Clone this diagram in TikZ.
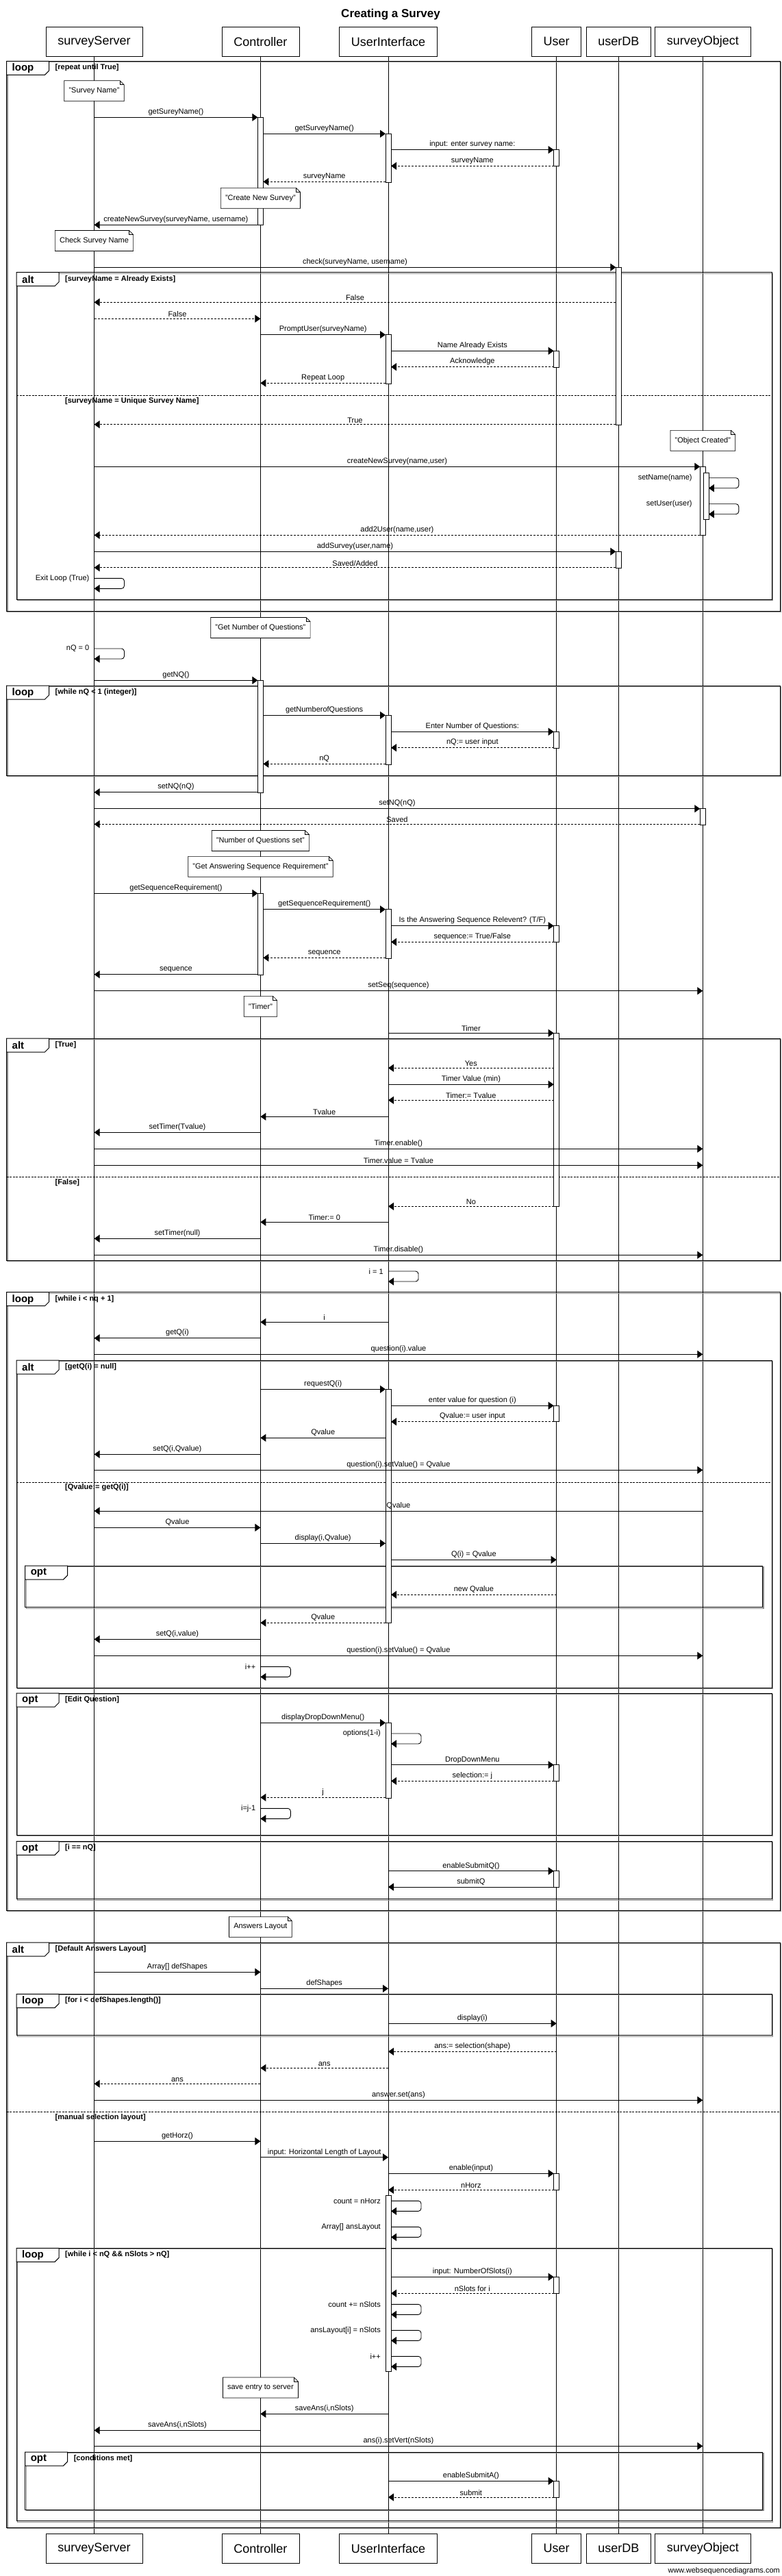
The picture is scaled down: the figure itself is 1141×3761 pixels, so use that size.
\documentclass[tikz,border=0pt]{standalone}
\usepackage{fontspec}
\setmainfont{Liberation Sans}
\usepackage{xcolor}
\usepackage{tikz}
\usetikzlibrary{positioning,arrows.meta,calc}
\definecolor{frameshade}{HTML}{8C8C8C}

\newcommand{\seqmsg}[7]{%
  \draw[#1] ($(#2 |- 0,#6)+(#3,0)$) -- node[msglabel]{#7} ($(#4 |- 0,#6)+(#5,0)$);}
\newcommand{\selfmsg}[4]{%
  \node[selflabel] at ($(#1 |- 0,#3)+(-6-#2,0)$) {#4};
  \draw[call, rounded corners=4pt] ($(#1 |- 0,#3)+(#2,0)$) -- ++(44,0) -- ++(0,15) -- ++(-44,0);}
\newcommand{\actbar}[4]{%
  \draw[activation] ($(#1 |- 0,#3)+(#2-4,0)$) rectangle ($(#1 |- 0,#4)+(#2+4,0)$);}
\newcommand{\seqframe}[6]{%
  \draw[frameshadow] (#1+1.5,#2+1.5) rectangle (#3+1.5,#4+1.5);
  \draw[framebox] (#1,#2) rectangle (#3,#4);
  \draw[framebox, fill=white] (#1,#2) -- ++(62,0) -- ++(0,14) -- ++(-6,6) -- ++(-56,0) -- cycle;
  \node[framekind] at (#1+8,#2+10.5) {#5};
  \node[guard] at (#1+71,#2+9.7) {#6};}
\newcommand{\altsep}[4]{%
  \draw[framebox, dash pattern=on 3pt off 1.5pt] (#1,#3) -- (#2,#3);
  \node[guard] at (#1+71,#3+8) {#4};}
\newcommand{\notebox}[4]{%
  \node[note] (#1) at (#2 |- 0,#3) {#4};
  \draw[notefold] (#1.north west) -- ([xshift=-6pt]#1.north east) -- ([yshift=-6pt]#1.north east)
    -- (#1.south east) -- (#1.south west) -- cycle;
  \draw[notefold] ([xshift=-6pt]#1.north east) -- ([xshift=-6pt,yshift=-6pt]#1.north east)
    -- ([yshift=-6pt]#1.north east);}

\begin{document}
\begin{tikzpicture}[
    x=1pt, y=-1pt,
    participant/.style={draw, line width=0.8pt, fill=white, minimum height=43pt,
                        inner sep=0pt, font=\fontsize{18}{20}\selectfont},
    lifeline/.style={line width=0.5pt},
    activation/.style={draw, fill=white, line width=0.6pt},
    call/.style={line width=0.9pt, -{Triangle[length=8pt,width=11pt]}},
    reply/.style={call, dash pattern=on 3pt off 2pt},
    msglabel/.style={above=1pt, inner sep=1pt, font=\fontsize{11}{13}\selectfont},
    selflabel/.style={anchor=east, inner sep=1pt, font=\fontsize{11}{13}\selectfont},
    note/.style={fill=white, minimum height=29.5pt, inner xsep=6.5pt, inner ysep=0pt,
                 font=\fontsize{11}{13}\selectfont},
    notefold/.style={line width=0.7pt},
    framebox/.style={line width=1pt},
    frameshadow/.style={line width=1.2pt, frameshade},
    framekind/.style={anchor=west, inner sep=0pt, font=\fontsize{15}{17}\selectfont\bfseries},
    guard/.style={anchor=west, inner sep=0pt, font=\fontsize{11}{13}\selectfont\bfseries},
]
\useasboundingbox (0,0) rectangle (1141,3761);

\node[font=\fontsize{17}{19}\selectfont\bfseries] (title) at (570.5,20.7) {Creating a Survey};

\node[participant, minimum width=141pt] (ss) at (137.5,60.8) {surveyServer};
\node[participant, minimum width=113pt] (ctl) at (380.4,60.8) {Controller};
\node[participant, minimum width=143pt] (ui) at (567,60.8) {UserInterface};
\node[participant, minimum width=72pt] (usr) at (812.7,60.8) {User};
\node[participant, minimum width=94pt] (db) at (903.4,60.8) {userDB};
\node[participant, minimum width=140pt] (obj) at (1026.3,60.8) {surveyObject};

\node[participant, minimum width=141pt] (ssB) at (137.5,3720.8) {surveyServer};
\node[participant, minimum width=113pt] (ctlB) at (380.4,3720.8) {Controller};
\node[participant, minimum width=143pt] (uiB) at (567,3720.8) {UserInterface};
\node[participant, minimum width=72pt] (usrB) at (812.7,3720.8) {User};
\node[participant, minimum width=94pt] (dbB) at (903.4,3720.8) {userDB};
\node[participant, minimum width=140pt] (objB) at (1026.3,3720.8) {surveyObject};

\draw[lifeline] (ss.south) -- (ssB.north);
\draw[lifeline] (ctl.south) -- (ctlB.north);
\draw[lifeline] (ui.south) -- (uiB.north);
\draw[lifeline] (usr.south) -- (usrB.north);
\draw[lifeline] (db.south) -- (dbB.north);
\draw[lifeline] (obj.south) -- (objB.north);

\node[anchor=east, inner sep=0pt, font=\fontsize{11}{13}\selectfont] (wsd) at (1139,3754)
    {www.websequencediagrams.com};

\seqframe{9.5}{89.3}{1139}{892.3}{loop}{[repeat until True]}
\seqframe{24}{397.7}{1127.3}{875.3}{alt}{[surveyName = Already Exists]}
\altsep{24}{1127.3}{577.3}{[surveyName = Unique Survey Name]}
\seqframe{9.5}{1001}{1139}{1132}{loop}{[while nQ < 1 (integer)]}
\seqframe{9.5}{1516}{1139}{1840}{alt}{[True]}
\altsep{9.5}{1139}{1718.3}{[False]}
\seqframe{9.5}{1886.7}{1139}{2789.3}{loop}{[while i < nq + 1]}
\seqframe{24}{1986}{1127.3}{2464}{alt}{[getQ(i) = null]}
\altsep{24}{1127.3}{2164}{[Qvalue:= getQ(i)]}
\seqframe{36.6}{2286}{1113.4}{2346.7}{opt}{}
\seqframe{24}{2472}{1127.3}{2679.3}{opt}{[Edit Question]}
\seqframe{24}{2688.3}{1127.3}{2772.7}{opt}{[i == nQ]}
\seqframe{9.5}{2836}{1139}{3690}{alt}{[Default Answers Layout]}
\seqframe{24}{2911.3}{1127.3}{2971.7}{loop}{[for i < defShapes.length()]}
\altsep{9.5}{1139}{3083.3}{[manual selection layout]}
\seqframe{24}{3282.3}{1127.3}{3680.7}{loop}{[while i < nQ \&\& nSlots > nQ]}
\seqframe{36.6}{3580}{1113.4}{3664.3}{opt}{[conditions met]}

\actbar{ctl}{0}{171.3}{328.3}
\actbar{ui}{0}{195.3}{266.3}
\actbar{usr}{0}{218.7}{242.3}
\actbar{db}{0}{390.3}{620}
\actbar{ui}{0}{488.7}{560}
\actbar{usr}{0}{512.3}{536}
\actbar{obj}{0}{681.3}{781.3}
\actbar{obj}{4.5}{690.3}{758}
\actbar{db}{0}{805.3}{829}
\actbar{ctl}{0}{993.3}{1157.3}
\actbar{ui}{0}{1044.3}{1116}
\actbar{usr}{0}{1068.3}{1092}
\actbar{obj}{0}{1180.7}{1204}
\actbar{ctl}{0}{1304.3}{1423}
\actbar{ui}{0}{1327.7}{1399.3}
\actbar{usr}{0}{1351.7}{1375.3}
\actbar{usr}{0}{1508.3}{1761.3}
\actbar{ui}{0}{2028.3}{2369.3}
\actbar{usr}{0}{2052.3}{2075.7}
\actbar{ui}{0}{2515.3}{2625}
\actbar{usr}{0}{2576.7}{2600.3}
\actbar{usr}{0}{2731.7}{2755.7}
\actbar{usr}{0}{3173.3}{3197.3}
\actbar{ui}{0}{3205.7}{3462.3}
\actbar{usr}{0}{3324.3}{3348.3}
\actbar{usr}{0}{3622.3}{3646}

\seqmsg{call}{ss}{0}{ctl}{-4}{171.3}{getSureyName()}
\seqmsg{call}{ctl}{4}{ui}{-4}{195.3}{getSurveyName()}
\seqmsg{call}{ui}{4}{usr}{-4}{218.7}{input: enter survey name:}
\seqmsg{reply}{usr}{-4}{ui}{4}{242.3}{surveyName}
\seqmsg{reply}{ui}{-4}{ctl}{4}{265.3}{surveyName}
\seqmsg{call}{ctl}{-4}{ss}{0}{328.3}{createNewSurvey(surveyName, username)}
\seqmsg{call}{ss}{0}{db}{-4}{390.3}{check(surveyName, username)}
\seqmsg{reply}{db}{-4}{ss}{0}{441.3}{False}
\seqmsg{reply}{ss}{0}{ctl}{0}{465.3}{False}
\seqmsg{call}{ctl}{0}{ui}{-4}{488.7}{PromptUser(surveyName)}
\seqmsg{call}{ui}{4}{usr}{-4}{512.3}{Name Already Exists}
\seqmsg{reply}{usr}{-4}{ui}{4}{535.7}{Acknowledge}
\seqmsg{reply}{ui}{-4}{ctl}{0}{559.3}{Repeat Loop}
\seqmsg{reply}{db}{-4}{ss}{0}{619.7}{True}
\seqmsg{call}{ss}{0}{obj}{-4}{681.3}{createNewSurvey(name,user)}
\selfmsg{obj}{8.5}{697.7}{setName(name)}
\selfmsg{obj}{8.5}{735.7}{setUser(user)}
\seqmsg{reply}{obj}{-4}{ss}{0}{781.3}{add2User(name,user)}
\seqmsg{call}{ss}{0}{db}{-4}{805.3}{addSurvey(user,name)}
\seqmsg{reply}{db}{-4}{ss}{0}{828.7}{Saved/Added}
\selfmsg{ss}{0}{844.3}{Exit Loop (True)}

\selfmsg{ss}{0}{947}{nQ = 0}
\seqmsg{call}{ss}{0}{ctl}{-4}{993.3}{getNQ()}
\seqmsg{call}{ctl}{4}{ui}{-4}{1044.3}{getNumberofQuestions}
\seqmsg{call}{ui}{4}{usr}{-4}{1068.3}{Enter Number of Questions:}
\seqmsg{reply}{usr}{-4}{ui}{4}{1091.7}{nQ:= user input}
\seqmsg{reply}{ui}{-4}{ctl}{4}{1115.3}{nQ}
\seqmsg{call}{ctl}{-4}{ss}{0}{1156.7}{setNQ(nQ)}
\seqmsg{call}{ss}{0}{obj}{-4}{1180.7}{setNQ(nQ)}
\seqmsg{reply}{obj}{-4}{ss}{0}{1203.3}{Saved}

\seqmsg{call}{ss}{0}{ctl}{-4}{1304.3}{getSequenceRequirement()}
\seqmsg{call}{ctl}{4}{ui}{-4}{1327.7}{getSequenceRequirement()}
\seqmsg{call}{ui}{4}{usr}{-4}{1351.7}{Is the Answering Sequence Relevent? (T/F)}
\seqmsg{reply}{usr}{-4}{ui}{4}{1375.3}{sequence:= True/False}
\seqmsg{reply}{ui}{-4}{ctl}{4}{1398.3}{sequence}
\seqmsg{call}{ctl}{-4}{ss}{0}{1422.7}{sequence}
\seqmsg{call}{ss}{0}{obj}{0}{1446.7}{setSeq(sequence)}

\seqmsg{call}{ui}{0}{usr}{-4}{1508.3}{Timer}
\seqmsg{reply}{usr}{-4}{ui}{0}{1559.3}{Yes}
\seqmsg{call}{ui}{0}{usr}{-4}{1583.3}{Timer Value (min)}
\seqmsg{reply}{usr}{-4}{ui}{0}{1606.3}{Timer:= Tvalue}
\seqmsg{call}{ui}{0}{ctl}{0}{1630.3}{Tvalue}
\seqmsg{call}{ctl}{0}{ss}{0}{1653.3}{setTimer(Tvalue)}
\seqmsg{call}{ss}{0}{obj}{0}{1677.3}{Timer.enable()}
\seqmsg{call}{ss}{0}{obj}{0}{1701.3}{Timer.value = Tvalue}
\seqmsg{reply}{usr}{-4}{ui}{0}{1761.3}{No}
\seqmsg{call}{ui}{0}{ctl}{0}{1784.3}{Timer:= 0}
\seqmsg{call}{ctl}{0}{ss}{0}{1808.3}{setTimer(null)}
\seqmsg{call}{ss}{0}{obj}{0}{1832.3}{Timer.disable()}
\selfmsg{ui}{0}{1856}{i = 1}

\seqmsg{call}{ui}{0}{ctl}{0}{1930.3}{i}
\seqmsg{call}{ctl}{0}{ss}{0}{1953.7}{getQ(i)}
\seqmsg{call}{ss}{0}{obj}{0}{1977.3}{question(i).value}
\seqmsg{call}{ctl}{0}{ui}{-4}{2028.3}{requestQ(i)}
\seqmsg{call}{ui}{4}{usr}{-4}{2052.3}{enter value for question (i)}
\seqmsg{reply}{usr}{-4}{ui}{4}{2075.7}{Qvalue:= user input}
\seqmsg{call}{ui}{-4}{ctl}{0}{2099.3}{Qvalue}
\seqmsg{call}{ctl}{0}{ss}{0}{2123.3}{setQ(i,Qvalue)}
\seqmsg{call}{ss}{0}{obj}{0}{2146.3}{question(i).setValue() = Qvalue}
\seqmsg{call}{obj}{0}{ss}{0}{2206}{Qvalue}
\seqmsg{call}{ss}{0}{ctl}{0}{2230.3}{Qvalue}
\seqmsg{call}{ctl}{0}{ui}{-4}{2253.3}{display(i,Qvalue)}
\seqmsg{call}{ui}{4}{usr}{0}{2277.3}{Q(i) = Qvalue}
\seqmsg{reply}{usr}{0}{ui}{4}{2328.3}{new Qvalue}
\seqmsg{reply}{ui}{-4}{ctl}{0}{2369.3}{Qvalue}
\seqmsg{call}{ctl}{0}{ss}{0}{2393.3}{setQ(i,value)}
\seqmsg{call}{ss}{0}{obj}{0}{2417.3}{question(i).setValue() = Qvalue}
\selfmsg{ctl}{0}{2433.3}{i++}
\seqmsg{call}{ctl}{0}{ui}{-4}{2515.3}{displayDropDownMenu()}
\selfmsg{ui}{4}{2531}{options(1-i)}
\seqmsg{call}{ui}{4}{usr}{-4}{2576.7}{DropDownMenu}
\seqmsg{reply}{usr}{-4}{ui}{4}{2600.3}{selection:= j}
\seqmsg{reply}{ui}{-4}{ctl}{0}{2624.3}{j}
\selfmsg{ctl}{0}{2640.3}{i=j-1}
\seqmsg{call}{ui}{0}{usr}{-4}{2731.7}{enableSubmitQ()}
\seqmsg{call}{usr}{-4}{ui}{0}{2755}{submitQ}

\seqmsg{call}{ss}{0}{ctl}{0}{2879.3}{Array[] defShapes}
\seqmsg{call}{ctl}{0}{ui}{0}{2903.3}{defShapes}
\seqmsg{call}{ui}{0}{usr}{0}{2954.3}{display(i)}
\seqmsg{reply}{usr}{0}{ui}{0}{2995.3}{ans:= selection(shape)}
\seqmsg{reply}{ui}{0}{ctl}{0}{3019.3}{ans}
\seqmsg{reply}{ctl}{0}{ss}{0}{3042.3}{ans}
\seqmsg{call}{ss}{0}{obj}{0}{3066.3}{answer.set(ans)}
\seqmsg{call}{ss}{0}{ctl}{0}{3126.3}{getHorz()}
\seqmsg{call}{ctl}{0}{ui}{0}{3149.7}{input: Horizontal Length of Layout}
\seqmsg{call}{ui}{0}{usr}{-4}{3173.3}{enable(input)}
\seqmsg{reply}{usr}{-4}{ui}{0}{3197.3}{nHorz}
\selfmsg{ui}{4}{3213.3}{count = nHorz}
\selfmsg{ui}{4}{3251.3}{Array[] ansLayout}
\seqmsg{call}{ui}{4}{usr}{-4}{3324.3}{input: NumberOfSlots(i)}
\seqmsg{reply}{usr}{-4}{ui}{4}{3348.3}{nSlots for i}
\selfmsg{ui}{4}{3364.3}{count += nSlots}
\selfmsg{ui}{4}{3402.3}{ansLayout[i] = nSlots}
\selfmsg{ui}{4}{3440.3}{i++}
\seqmsg{call}{ui}{0}{ctl}{0}{3524.3}{saveAns(i,nSlots)}
\seqmsg{call}{ctl}{0}{ss}{0}{3548.3}{saveAns(i,nSlots)}
\seqmsg{call}{ss}{0}{obj}{0}{3571.3}{ans(i).setVert(nSlots)}
\seqmsg{call}{ui}{0}{usr}{-4}{3622.3}{enableSubmitA()}
\seqmsg{reply}{usr}{-4}{ui}{0}{3646}{submit}

\notebox{nSurveyName}{ss}{132.7}{"Survey Name"}
\notebox{nCreateSurvey}{ctl}{289.3}{"Create New Survey"}
\notebox{nCheckName}{ss}{351.5}{Check Survey Name}
\notebox{nObjCreated}{obj}{643.3}{"Object Created"}
\notebox{nNumQ}{ctl}{916.5}{"Get Number of Questions"}
\notebox{nNumQSet}{ctl}{1227.5}{"Number of Questions set"}
\notebox{nSeqReq}{ctl}{1265.3}{"Get Answering Sequence Requirement"}
\notebox{nTimer}{ctl}{1469.3}{"Timer"}
\notebox{nAnsLayout}{ctl}{2813.3}{Answers Layout}
\notebox{nSaveEntry}{ctl}{3486}{save entry to server}
\end{tikzpicture}
\end{document}
